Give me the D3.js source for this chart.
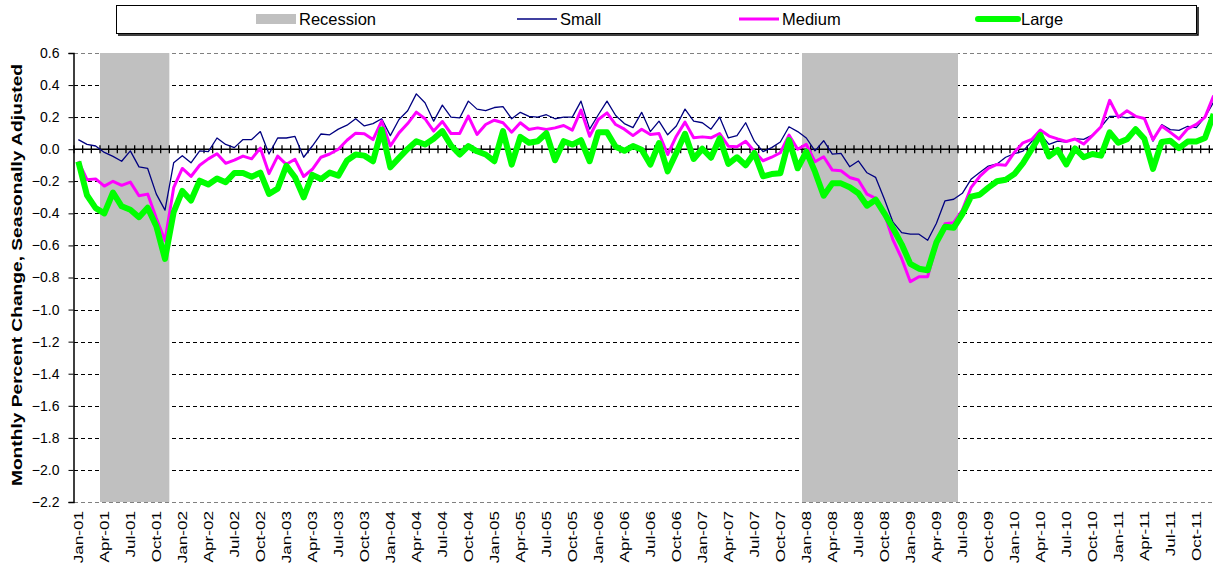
<!DOCTYPE html>
<html>
<head>
<meta charset="utf-8">
<script src="https://cdn.jsdelivr.net/npm/d3@7"></script>
<style>
  body { margin: 0; background: #fff; }
  text { font-family: Arial, "Liberation Sans", sans-serif; }
</style>
</head>
<body>
<div id="chart"></div>
<script>
const width = 1213
    height = 573
    margin = {top: 53, right: -5, bottom: 71, left: 74};

// the picture is stretched a bit vertically, text along y gets longer
const stretch = 1.37;

// months Jan-01 .. Dec-11
const monthNames = ["Jan", "Feb", "Mar", "Apr", "May", "Jun", "Jul", "Aug", "Sep", "Oct", "Nov", "Dec"];
const years = ["01", "02", "03", "04", "05", "06", "07", "08", "09", "10", "11"];
const months = years.flatMap(y => monthNames.map(m => m + "-" + y));

// recessions, first and last shaded month
const recessionStart = ["Apr-01", "Jan-08"];
const recessionEnd = ["Nov-01", "Jun-09"];

const yTicks = [0.6, 0.4, 0.2, 0.0, -0.2, -0.4, -0.6, -0.8, -1.0, -1.2, -1.4, -1.6, -1.8, -2.0, -2.2];

const small = [
  0.06, 0.03, 0.02, -0.02, -0.045, -0.075, -0.01, -0.11, -0.12, -0.28, -0.38, -0.085,
  -0.04, -0.085, -0.01, -0.015, 0.07, 0.03, 0.01, 0.06, 0.06, 0.11, -0.03, 0.07,
  0.07, 0.08, -0.05, 0.02, 0.095, 0.09, 0.125, 0.15, 0.19, 0.145, 0.16, 0.19,
  0.085, 0.185, 0.24, 0.345, 0.29, 0.175, 0.275, 0.2, 0.195, 0.3, 0.25, 0.24,
  0.26, 0.265, 0.19, 0.23, 0.205, 0.2, 0.215, 0.19, 0.2, 0.2, 0.3, 0.125,
  0.215, 0.3, 0.21, 0.16, 0.135, 0.23, 0.11, 0.175, 0.09, 0.145, 0.25, 0.175,
  0.165, 0.125, 0.2, 0.07, 0.085, 0.165, 0.05, -0.015, 0.01, 0.045, 0.14, 0.11,
  0.07, -0.01, 0.053, -0.03, -0.026, -0.109, -0.073, -0.147, -0.176, -0.31, -0.455, -0.52,
  -0.53, -0.53, -0.568, -0.463, -0.322, -0.312, -0.275, -0.188, -0.145, -0.105, -0.092, -0.05,
  -0.028, -0.012, 0.048, 0.095, 0.03, 0.05, 0.045, 0.066, 0.061, 0.088, 0.14, 0.205,
  0.205, 0.195, 0.205, 0.19, 0.05, 0.153, 0.122, 0.117, 0.143, 0.135, 0.2, 0.295
];

const medium = [
  -0.075, -0.19, -0.185, -0.23, -0.2, -0.225, -0.205, -0.29, -0.28, -0.43, -0.57, -0.24,
  -0.12, -0.17, -0.1, -0.06, -0.028, -0.088, -0.068, -0.043, -0.06, 0.007, -0.152, -0.043,
  -0.094, -0.063, -0.17, -0.125, -0.05, -0.03, 0.0, 0.056, 0.1, 0.096, 0.06, 0.175,
  0.02, 0.102, 0.16, 0.231, 0.19, 0.113, 0.173, 0.098, 0.098, 0.206, 0.092, 0.154,
  0.181, 0.165, 0.106, 0.165, 0.123, 0.133, 0.123, 0.133, 0.148, 0.119, 0.244, 0.081,
  0.185, 0.227, 0.154, 0.125, 0.085, 0.125, 0.092, 0.098, -0.033, 0.081, 0.169, 0.071,
  0.077, 0.071, 0.098, 0.019, 0.015, 0.05, -0.013, -0.072, -0.05, -0.022, 0.088, 0.0,
  0.03, -0.078, -0.047, -0.13, -0.134, -0.176, -0.192, -0.28, -0.307, -0.4, -0.566, -0.681,
  -0.826, -0.795, -0.795, -0.6, -0.465, -0.458, -0.38, -0.24, -0.17, -0.12, -0.095, -0.1,
  -0.02, 0.04, 0.061, 0.12, 0.082, 0.064, 0.048, 0.064, 0.032, 0.085, 0.14, 0.305,
  0.2, 0.24, 0.205, 0.192, 0.06, 0.145, 0.105, 0.064, 0.127, 0.155, 0.2, 0.335
];

const large = [
  -0.077, -0.287, -0.367, -0.4, -0.27, -0.356, -0.378, -0.424, -0.365, -0.48, -0.684, -0.393,
  -0.26, -0.32, -0.196, -0.22, -0.183, -0.206, -0.148, -0.148, -0.172, -0.146, -0.279, -0.246,
  -0.103, -0.175, -0.3, -0.16, -0.186, -0.146, -0.165, -0.07, -0.033, -0.04, -0.075, 0.123,
  -0.113, -0.054, 0.002, 0.05, 0.029, 0.065, 0.113, 0.023, -0.033, 0.019, -0.013, -0.033,
  -0.075, 0.113, -0.096, 0.077, 0.04, 0.05, 0.1, -0.069, 0.05, 0.029, 0.056, -0.075,
  0.106, 0.106, 0.015, -0.01, 0.02, -0.003, -0.096, 0.038, -0.138, -0.022, 0.096, -0.061,
  0.003, -0.053, 0.068, -0.091, -0.05, -0.1, -0.023, -0.169, -0.155, -0.15, 0.057, -0.119,
  -0.015, -0.14, -0.29, -0.213, -0.213, -0.237, -0.275, -0.352, -0.315, -0.4, -0.493, -0.593,
  -0.715, -0.745, -0.755, -0.582, -0.483, -0.49, -0.405, -0.296, -0.284, -0.24, -0.2, -0.19,
  -0.155, -0.087, 0.0, 0.09, -0.045, -0.005, -0.095, 0.005, -0.05, -0.03, -0.04, 0.105,
  0.04, 0.062, 0.125, 0.065, -0.123, 0.045, 0.053, 0.007, 0.048, 0.048, 0.07, 0.22
];

const series = [
  {name: "Small", values: small, color: "#000080", width: 1.3},
  {name: "Medium", values: medium, color: "#FF00FF", width: 3},
  {name: "Large", values: large, color: "#00FF00", width: 6}
];

const svg = d3.select("#chart").append("svg")
    .attr("width", width)
    .attr("height", height);

// plot runs a little past the right edge of the picture (cropped)
let x = d3.scaleBand()
    .domain(months)
    .range([margin.left, 1218]);

let y = d3.scaleLinear()
    .domain([-2.2, 0.6])
    .range([height - margin.bottom, margin.top]);

// gridlines
svg.append("g")
  .selectAll("line")
  .data(yTicks.filter(d => d !== 0))
  .join("line")
    .attr("x1", margin.left)
    .attr("x2", width)
    .attr("y1", d => Math.round(y(d)) + 0.5)
    .attr("y2", d => Math.round(y(d)) + 0.5)
    .attr("stroke", d => (d === 0.6 || d === -2.2) ? "#808080" : "#000")
    .attr("stroke-width", 1)
    .attr("stroke-dasharray", "4,3");

// recession shading
svg.append("g")
  .selectAll("rect")
  .data(recessionStart.map((s, i) => [s, recessionEnd[i]]))
  .join("rect")
    .attr("x", d => x(d[0]))
    .attr("width", d => x(d[1]) + x.bandwidth() - x(d[0]))
    .attr("y", y(0.6))
    .attr("height", y(-2.2) - y(0.6))
    .attr("fill", "#C0C0C0");

// y axis
let yAxis = d3.axisLeft(y)
    .tickValues(yTicks)
    .tickFormat(d3.format(".1f"))
    .tickSize(5);

svg.append("g")
    .attr("transform", `translate(${margin.left - 0.5},0)`)
    .call(yAxis)
    .call(g => g.select(".domain").attr("stroke-width", 1.5))
    .call(g => g.selectAll("text")
        .attr("font-size", 14)
        .attr("font-family", "Arial")
        .attr("fill", "#000")
        .attr("x", -14));

// category axis along zero
svg.append("line")
    .attr("x1", margin.left)
    .attr("x2", width)
    .attr("y1", y(0))
    .attr("y2", y(0))
    .attr("stroke", "#000")
    .attr("stroke-width", 1.5);

svg.append("g")
  .selectAll("line")
  .data(months)
  .join("line")
    .attr("x1", d => x(d))
    .attr("x2", d => x(d))
    .attr("y1", y(0) - 4)
    .attr("y2", y(0) + 4)
    .attr("stroke", "#000")
    .attr("stroke-width", 1.3);

// month labels every quarter, at the bottom
svg.append("g")
  .selectAll("text")
  .data(months.filter((d, i) => i % 3 === 0))
  .join("text")
    .attr("transform", d => `translate(${x(d) + x.bandwidth() / 2},${height - margin.bottom + 9}) scale(1,${stretch}) rotate(-90)`)
    .attr("text-anchor", "end")
    .attr("dy", "0.35em")
    .attr("font-size", 12.5)
    .text(d => d);

// series lines
let line = d3.line()
    .x((d, i) => x(months[i]) + x.bandwidth() / 2)
    .y(d => y(d));

svg.append("g")
  .selectAll("path")
  .data(series)
  .join("path")
    .attr("d", d => line(d.values))
    .attr("fill", "none")
    .attr("stroke", d => d.color)
    .attr("stroke-width", d => d.width)
    .attr("stroke-linejoin", "round");

// y title
svg.append("text")
    .attr("transform", `translate(22,275) scale(1,${stretch}) rotate(-90)`)
    .attr("text-anchor", "middle")
    .attr("font-size", 14)
    .attr("font-weight", "bold")
    .text("Monthly Percent Change, Seasonally Adjusted");

// legend
let legend = svg.append("g");

legend.append("rect")
    .attr("x", 116.5)
    .attr("y", 5.5)
    .attr("width", 1080)
    .attr("height", 28)
    .attr("fill", "#fff")
    .attr("stroke", "#000");

legend.append("path")
    .attr("d", "M118,35H1198V7")
    .attr("fill", "none")
    .attr("stroke", "#000")
    .attr("stroke-width", 1.5);

const legendItems = [
  {name: "Recession", x: 256, type: "rect", color: "#C0C0C0"},
  {name: "Small", x: 517, type: "line", color: "#000080", width: 1.3},
  {name: "Medium", x: 739, type: "line", color: "#FF00FF", width: 3},
  {name: "Large", x: 978, type: "line", color: "#00FF00", width: 6}
];

legendItems.forEach(d => {
  if (d.type === "rect") {
    legend.append("rect")
        .attr("x", d.x)
        .attr("y", 14)
        .attr("width", 40)
        .attr("height", 10)
        .attr("fill", d.color);
  } else {
    legend.append("line")
        .attr("x1", d.x)
        .attr("x2", d.x + 40)
        .attr("y1", 19)
        .attr("y2", 19)
        .attr("stroke", d.color)
        .attr("stroke-width", d.width)
        .attr("stroke-linecap", d.width > 4 ? "round" : "butt");
  }
  legend.append("text")
      .attr("x", d.x + 43)
      .attr("y", 19)
      .attr("dy", "0.35em")
      .attr("font-size", 16.5)
      .text(d.name);
});
</script>
</body>
</html>
